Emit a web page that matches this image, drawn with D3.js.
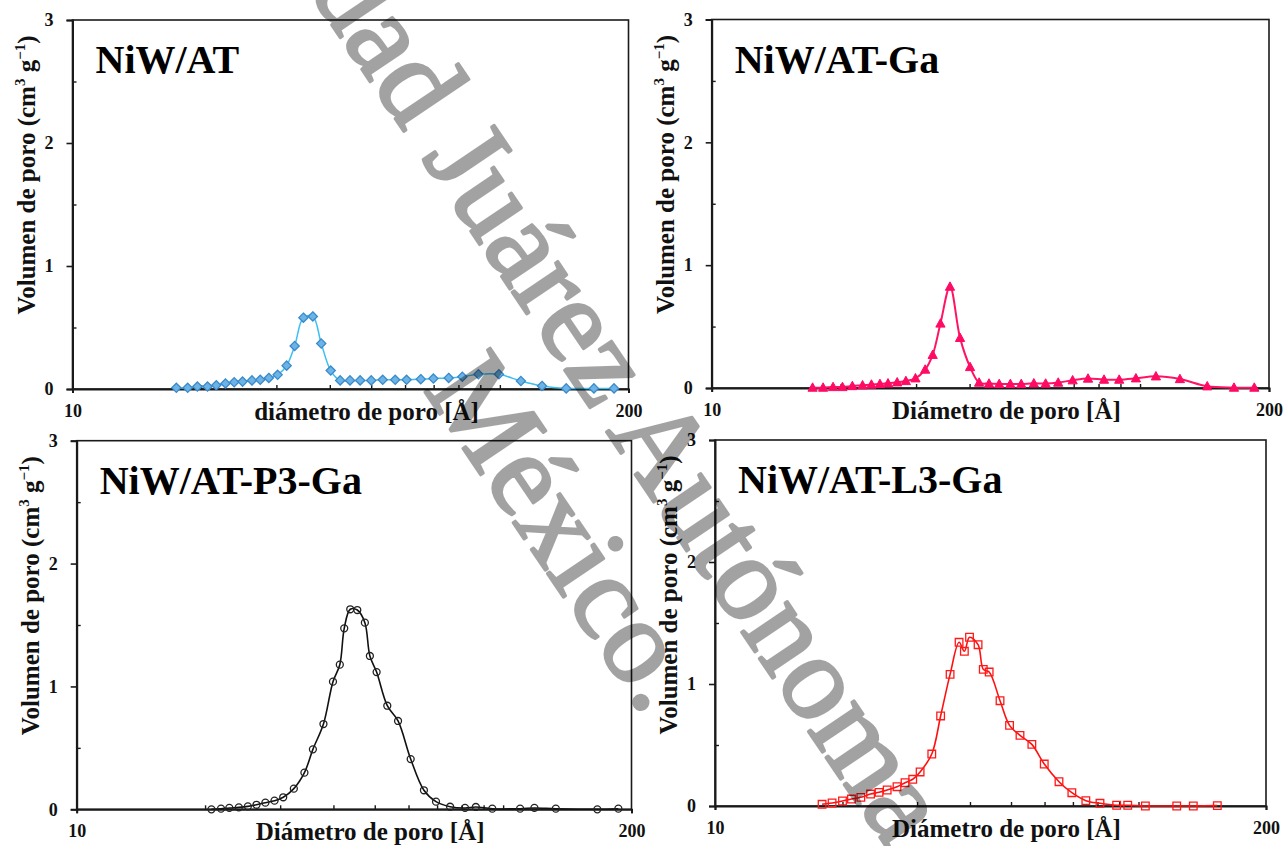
<!DOCTYPE html>
<html>
<head>
<meta charset="utf-8">
<script src="https://cdn.jsdelivr.net/npm/d3@7"></script>
<style>
  html, body { margin: 0; padding: 0; background: #fff; }
  svg { display: block; }
  text { font-family: "Liberation Serif", "Times New Roman", serif; }
</style>
</head>
<body>
<svg id="chart" width="1286" height="846"></svg>
<script>
// ---------- data ----------
const titles = ["NiW/AT", "NiW/AT-Ga", "NiW/AT-P3-Ga", "NiW/AT-L3-Ga"];
const xTitles = ["diámetro de poro [Å]", "Diámetro de poro [Å]", "Diámetro de poro [Å]", "Diámetro de poro [Å]"];
const xTickLabels = [10, 200];
const xMinorTicks = [20, 30, 40, 50, 60, 70, 80, 90, 100];
const yMajorTicks = [0, 1, 2, 3];
const yMinorTicks = [0.5, 1.5, 2.5];

const dAT = [17.5, 18.6, 19.6, 20.7, 21.7, 22.8, 23.9, 25.0, 26.3, 27.5, 28.8, 30.2, 31.7, 33.1, 34.7, 36.5, 38.2, 40.2, 42.3, 44.6, 47.1, 50.0, 53.2, 56.9, 60.5, 65.3, 69.9, 75.9, 81.7, 89.1, 99.5, 112, 125.5, 143, 166, 185];
const vAT = [0.01, 0.01, 0.02, 0.02, 0.03, 0.045, 0.055, 0.06, 0.07, 0.075, 0.09, 0.115, 0.19, 0.35, 0.58, 0.59, 0.37, 0.15, 0.07, 0.07, 0.07, 0.07, 0.075, 0.075, 0.075, 0.08, 0.085, 0.09, 0.1, 0.12, 0.12, 0.065, 0.025, 0.005, 0.005, 0.005];

const dATGa = [17.2, 18.2, 19.2, 20.2, 21.3, 22.5, 23.6, 24.7, 25.8, 27.1, 28.4, 29.9, 31.5, 32.8, 34.2, 36.0, 38.0, 40.1, 42.1, 44.4, 46.9, 49.8, 52.8, 56.5, 60.2, 64.4, 69.6, 75.6, 82.4, 89.4, 97.8, 108.9, 123.9, 143.5, 165.7, 184.8];
const vATGa = [0.003, 0.003, 0.008, 0.008, 0.016, 0.022, 0.028, 0.033, 0.038, 0.046, 0.057, 0.079, 0.15, 0.27, 0.525, 0.825, 0.408, 0.171, 0.044, 0.036, 0.033, 0.033, 0.033, 0.038, 0.036, 0.044, 0.063, 0.077, 0.068, 0.068, 0.079, 0.095, 0.073, 0.014, 0.003, 0.003];

const dP3 = [20.7, 21.8, 22.8, 24.0, 25.2, 26.4, 27.7, 29.1, 30.5, 32.3, 34.2, 35.8, 37.9, 39.9, 41.4, 42.4, 43.8, 45.5, 47.4, 48.7, 50.5, 53.5, 56.7, 60.7, 65.2, 69.6, 75.1, 81.4, 86.3, 94.3, 109.6, 118.4, 132.9, 166.3, 186.3];
const vP3 = [0, 0.005, 0.011, 0.016, 0.024, 0.037, 0.054, 0.07, 0.098, 0.168, 0.298, 0.488, 0.694, 1.039, 1.177, 1.473, 1.628, 1.622, 1.519, 1.248, 1.117, 0.843, 0.719, 0.409, 0.155, 0.062, 0.021, 0.011, 0.019, 0.005, 0.005, 0.011, 0.005, 0, 0.005];

const dL3 = [17.9, 18.9, 20.0, 21.0, 22.1, 23.3, 24.4, 25.5, 26.9, 28.1, 29.3, 30.5, 32.5, 34.1, 35.9, 37.7, 38.8, 39.9, 41.8, 43.0, 44.4, 47.1, 49.6, 52.5, 56.0, 59.9, 64.9, 69.6, 75.1, 81.1, 88.8, 94.3, 103.8, 123.1, 134.7, 153.5];
const vL3 = [0.014, 0.025, 0.041, 0.057, 0.071, 0.098, 0.112, 0.131, 0.158, 0.191, 0.219, 0.279, 0.426, 0.738, 1.079, 1.342, 1.268, 1.383, 1.322, 1.12, 1.098, 0.863, 0.661, 0.579, 0.505, 0.344, 0.199, 0.109, 0.044, 0.022, 0.006, 0.006, 0, 0, 0, 0.003];

const watermarkLines = ["Universidad Juárez Autónoma de Tabasco", "México."];

// ---------- layout / style ----------
const FONT = '"Liberation Serif", "Times New Roman", serif';
const panels = [
  { title: titles[0], xTitle: xTitles[0], d: dAT, v: vAT, box: [72.5, 628.5, 20, 389],
    color: "#3cc0f2", lw: 1.5, marker: "diamond", mFill: "#6cb4e6", mStroke: "#3a8acb" },
  { title: titles[1], xTitle: xTitles[1], d: dATGa, v: vATGa, box: [711.7, 1269, 19.5, 388],
    color: "#ff1464", lw: 2, marker: "triangle", mFill: "#ff0a64", mStroke: "#ff0a64" },
  { title: titles[2], xTitle: xTitles[2], d: dP3, v: vP3, box: [76.7, 631.5, 440.7, 809.3],
    color: "#111111", lw: 1.6, marker: "circle", mFill: "none", mStroke: "#222222" },
  { title: titles[3], xTitle: xTitles[3], d: dL3, v: vL3, box: [715, 1266, 440, 806],
    color: "#ff1010", lw: 1.6, marker: "square", mFill: "none", mStroke: "#ff1a1a" }
];

const markerPaths = {
  diamond: "M0,-4.6L4.6,0L0,4.6L-4.6,0Z",
  triangle: "M0,-4.8L4.6,3.6L-4.6,3.6Z",
  circle: d3.symbol(d3.symbolCircle, 38)(),
  square: "M-3.8,-3.8H3.8V3.8H-3.8Z"
};

const svg = d3.select("#chart");
svg.append("rect").attr("width", 1286).attr("height", 846).attr("fill", "#fff");

panels.forEach(p => {
  const [L, R, T, B] = p.box;
  const x = d3.scaleLog().domain([10, 200]).range([L, R]);
  const y = d3.scaleLinear().domain([0, 3]).range([B, T]);
  const g = svg.append("g");

  // frame
  g.append("rect").attr("x", L).attr("y", T).attr("width", R - L).attr("height", B - T)
    .attr("fill", "none").attr("stroke", "#1a1a1a").attr("stroke-width", 1.6);

  // y axis: major ticks outside with labels
  const yAxis = d3.axisLeft(y).tickValues(yMajorTicks).tickSize(6).tickPadding(13)
    .tickFormat(d3.format("d"));
  const ya = g.append("g").attr("transform", `translate(${L},0)`).call(yAxis);
  ya.select(".domain").attr("stroke", "#1a1a1a").attr("stroke-width", 2);
  ya.selectAll(".tick line").attr("stroke", "#1a1a1a").attr("stroke-width", 1.6);
  ya.selectAll(".tick text").attr("font-family", FONT).attr("font-weight", "bold")
    .attr("font-size", 18).attr("fill", "#111");

  // y minor ticks inside
  const yMin = d3.axisRight(y).tickValues(yMinorTicks).tickSize(4).tickFormat("");
  const ym = g.append("g").attr("transform", `translate(${L},0)`).call(yMin);
  ym.select(".domain").remove();
  ym.selectAll(".tick line").attr("stroke", "#1a1a1a").attr("stroke-width", 1.4);

  // x axis: ends with labels, minor ticks inside
  const xAxis = d3.axisBottom(x).tickValues(xTickLabels).tickSize(4).tickPadding(11)
    .tickFormat(d3.format("d"));
  const xa = g.append("g").attr("transform", `translate(0,${B})`).call(xAxis);
  xa.select(".domain").attr("stroke", "#1a1a1a").attr("stroke-width", 2);
  xa.selectAll(".tick line").attr("stroke", "#1a1a1a").attr("stroke-width", 1.6);
  xa.selectAll(".tick text").attr("font-family", FONT).attr("font-weight", "bold")
    .attr("font-size", 18).attr("fill", "#111");

  const xMin = d3.axisTop(x).tickValues(xMinorTicks).tickSize(4).tickFormat("");
  const xm = g.append("g").attr("transform", `translate(0,${B})`).call(xMin);
  xm.select(".domain").remove();
  xm.selectAll(".tick line").attr("stroke", "#1a1a1a").attr("stroke-width", 1.4);

  // axis titles
  g.append("text").attr("x", (L + R) / 2 + 16).attr("y", B + 31)
    .attr("text-anchor", "middle").attr("font-family", FONT).attr("font-weight", "bold")
    .attr("font-size", 25).attr("fill", "#111").text(p.xTitle);

  const yt = g.append("text")
    .attr("transform", `translate(${L - 38},${T + 155}) rotate(-90)`)
    .attr("text-anchor", "middle").attr("font-family", FONT).attr("font-weight", "bold")
    .attr("font-size", 25).attr("fill", "#111");
  yt.append("tspan").text("Volumen de poro (cm");
  yt.append("tspan").attr("font-size", 15).attr("dy", -10).text("3");
  yt.append("tspan").attr("dy", 10).text(" g");
  yt.append("tspan").attr("font-size", 15).attr("dy", -10).text("−1");
  yt.append("tspan").attr("dy", 10).text(")");

  // panel title
  g.append("text").attr("x", L + 23).attr("y", T + 53)
    .attr("font-family", FONT).attr("font-weight", "bold").attr("font-size", 40)
    .attr("fill", "#000").text(p.title);

  // series
  const pts = p.d.map((d, i) => [d, p.v[i]]);
  const line = d3.line().x(d => x(d[0])).y(d => y(d[1])).curve(d3.curveCatmullRom.alpha(0.5));
  g.append("path").datum(pts).attr("d", line).attr("fill", "none")
    .attr("stroke", p.color).attr("stroke-width", p.lw);

  g.selectAll(".m").data(pts).enter().append("path")
    .attr("transform", d => `translate(${x(d[0])},${y(d[1])})`)
    .attr("d", markerPaths[p.marker])
    .attr("fill", p.mFill).attr("stroke", p.mStroke)
    .attr("stroke-width", p.marker === "triangle" ? 1 : 1.3);
});

// watermark (semi-transparent, on top)
const wm = svg.append("g").attr("transform", "translate(640,482) rotate(56)")
  .attr("opacity", 0.36);
wm.selectAll("text").data(watermarkLines).enter().append("text")
  .attr("x", 0).attr("y", (d, i) => i * 128)
  .attr("text-anchor", "middle").attr("font-family", FONT).attr("font-size", 120)
  .attr("fill", "#000").attr("stroke", "#000").attr("stroke-width", 3)
  .attr("stroke-linejoin", "round")
  .text(d => d);
</script>
</body>
</html>
